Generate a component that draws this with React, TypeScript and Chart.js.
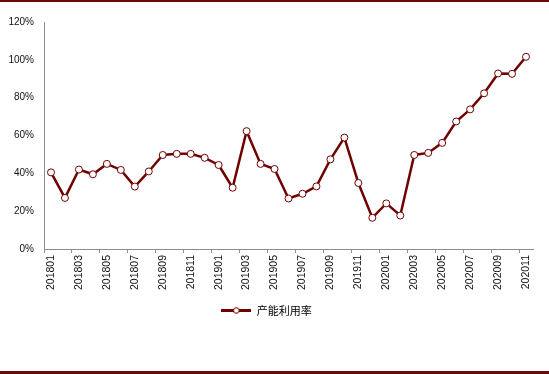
import React, { useEffect, useRef } from "react";
import { Chart, registerables } from "chart.js";

Chart.register(...registerables);

const categories: string[] = [
  "201801", "201802", "201803", "201804", "201805", "201806", "201807", "201808", "201809", "201810", "201811", "201812",
  "201901", "201902", "201903", "201904", "201905", "201906", "201907", "201908", "201909", "201910", "201911", "201912",
  "202001", "202002", "202003", "202004", "202005", "202006", "202007", "202008", "202009", "202010", "202011",
];

const utilization: number[] = [
  40.5, 27, 42, 39.5, 45, 41.8, 33, 41, 49.7, 50.3, 50.3, 48.2,
  44.4, 32.4, 62.3, 45, 42.3, 26.7, 29.2, 33.1, 47.4, 58.9, 34.9, 16.5,
  24.1, 17.7, 49.7, 50.8, 56.1, 67.4, 73.8, 82.3, 92.8, 92.6, 101.6,
];

const seriesName = "产能利用率";
const yTicks: number[] = [0, 20, 40, 60, 80, 100, 120];

const DARK = "#6E0000";
const AXIS = "#8C8C8C";

function makeLegendIcon(): HTMLCanvasElement {
  const c = document.createElement("canvas");
  c.width = 30;
  c.height = 9;
  const g = c.getContext("2d")!;
  g.strokeStyle = DARK;
  g.lineWidth = 3;
  g.beginPath();
  g.moveTo(0, 4.5);
  g.lineTo(30, 4.5);
  g.stroke();
  g.fillStyle = "#fff";
  g.lineWidth = 1;
  g.beginPath();
  g.arc(15, 4.5, 2.8, 0, Math.PI * 2);
  g.fill();
  g.stroke();
  return c;
}

export default function App() {
  const ref = useRef<HTMLCanvasElement | null>(null);

  useEffect(() => {
    document.body.style.margin = "0";
    const icon = makeLegendIcon();
    const chart = new Chart(ref.current!, {
      type: "line",
      data: {
        labels: categories,
        datasets: [
          {
            label: seriesName,
            data: utilization,
            borderColor: DARK,
            backgroundColor: "#ffffff",
            borderWidth: 2.5,
            pointRadius: 3.5,
            pointBorderWidth: 1,
            pointBorderColor: DARK,
            pointBackgroundColor: "#ffffff",
            pointStyle: "circle",
            tension: 0,
          },
        ],
      },
      options: {
        animation: false,
        responsive: false,
        maintainAspectRatio: false,
        layout: { padding: { top: 22, right: 16, bottom: 48, left: 0 } },
        plugins: {
          tooltip: { enabled: false },
          legend: {
            position: "bottom",
            labels: {
              usePointStyle: true,
              pointStyleWidth: 30,
              padding: 10,
              color: "#222",
              font: { family: "'Noto Sans CJK SC'", size: 11 },
              generateLabels: () => [
                {
                  text: seriesName,
                  pointStyle: icon as any,
                  fillStyle: "#fff",
                  strokeStyle: DARK,
                  lineWidth: 0,
                  hidden: false,
                  datasetIndex: 0,
                },
              ],
            },
          },
        },
        scales: {
          x: {
            type: "category",
            offset: true,
            afterFit: (s: any) => {
              s.height = 46;
            },
            border: { display: true, color: AXIS, width: 1 },
            grid: {
              offset: true,
              drawOnChartArea: false,
              drawTicks: true,
              tickLength: 4,
              color: (ctx: any) => (ctx.index % 2 === 0 ? AXIS : "rgba(0,0,0,0)"),
            },
            ticks: {
              autoSkip: false,
              maxRotation: 90,
              minRotation: 90,
              padding: 2,
              color: "#111",
              font: { family: "'Liberation Sans'", size: 10.5 },
              callback: (_v: any, i: number) => (i % 2 === 0 ? categories[i] : ""),
            },
          },
          y: {
            min: 0,
            max: 120,
            afterFit: (s: any) => {
              s.width = 44;
            },
            afterBuildTicks: (s: any) => {
              s.ticks = yTicks.map((v) => ({ value: v }));
            },
            border: { display: true, color: AXIS, width: 1 },
            grid: { drawOnChartArea: false, drawTicks: false },
            ticks: {
              padding: 10,
              color: "#111",
              font: { family: "'Liberation Sans'", size: 10 },
              callback: (v: any) => v + "%",
            },
          },
        },
      },
    });
    return () => chart.destroy();
  }, []);

  return (
    <div style={{ position: "relative", width: 549, height: 374, background: "#fff" }}>
      <canvas ref={ref} width={549} height={374} style={{ display: "block" }} />
      <div style={{ position: "absolute", left: 0, top: 0, width: 549, height: 2, background: "#6B0A0A" }} />
      <div style={{ position: "absolute", left: 0, top: 371, width: 549, height: 3, background: "#6B0A0A" }} />
    </div>
  );
}
